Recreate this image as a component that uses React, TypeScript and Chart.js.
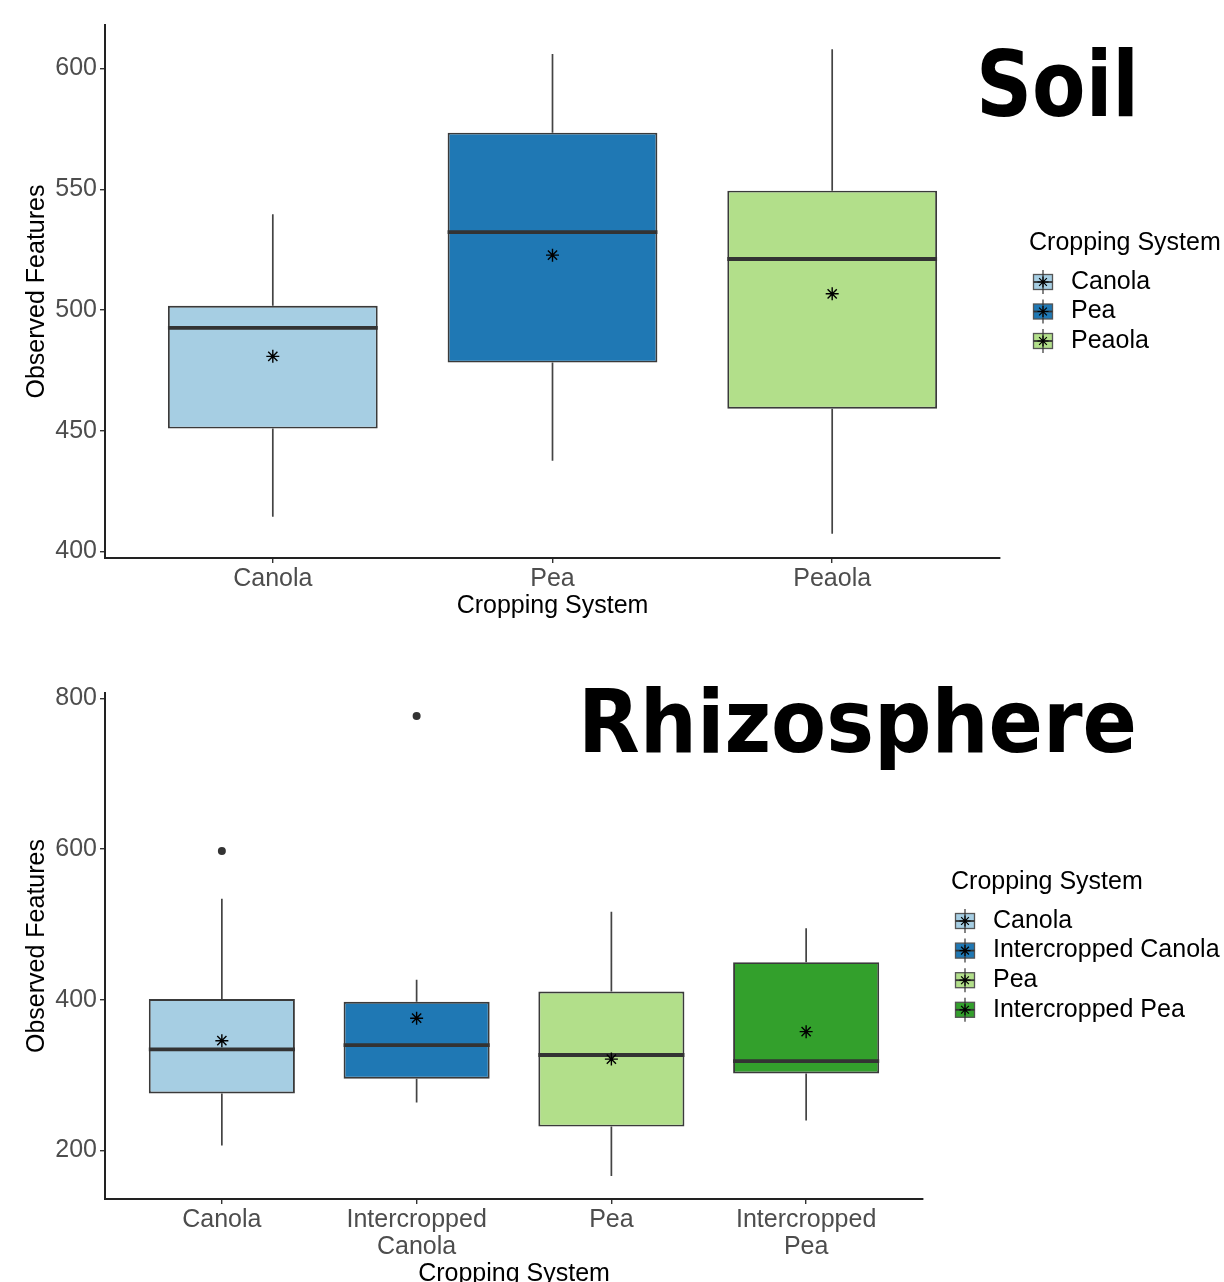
import React, { useEffect, useRef } from "react";
import { Chart, registerables } from "chart.js";

Chart.register(...registerables);

// ---------- Soil data ----------
const soilCategories: (string | string[])[] = ["Canola", "Pea", "Peaola"];
const soilLegendLabels = ["Canola", "Pea", "Peaola"];
const soilColors = ["#A6CEE3", "#1F78B4", "#B2DF8A"];
const soilLow = [414.4, 437.6, 407.3];
const soilQ1 = [450.9, 478.2, 459.1];
const soilMedian = [492.6, 532.2, 521.1];
const soilQ3 = [501.7, 573.4, 549.4];
const soilHigh = [539.6, 606.0, 608.0];
const soilMean = [480.8, 522.7, 506.7];
const soilOutliers: number[][] = [[], [], []];
const soilYTicks = [400, 450, 500, 550, 600];

// ---------- Rhizosphere data ----------
const rhizoCategories: (string | string[])[] = [
  "Canola",
  ["Intercropped", "Canola"],
  "Pea",
  ["Intercropped", "Pea"],
];
const rhizoLegendLabels = ["Canola", "Intercropped Canola", "Pea", "Intercropped Pea"];
const rhizoColors = ["#A6CEE3", "#1F78B4", "#B2DF8A", "#33A02C"];
const rhizoLow = [206.5, 263.5, 165.8, 239.6];
const rhizoQ1 = [275.5, 295.0, 231.5, 302.1];
const rhizoMedian = [334.1, 339.6, 326.5, 318.4];
const rhizoQ3 = [400.9, 397.1, 410.7, 449.8];
const rhizoHigh = [533.9, 426.4, 516.6, 494.9];
const rhizoMean = [345.5, 375.4, 321.1, 357.5];
const rhizoOutliers: number[][] = [[597.5], [776.7], [], []];
const rhizoYTicks = [200, 400, 600, 800];

const FONT = '"Liberation Sans", Arial, Helvetica, sans-serif';
const BOX_WIDTH = 0.75;

type PanelProps = {
  top: number;
  height: number;
  categories: (string | string[])[];
  legendLabels: string[];
  colors: string[];
  low: number[];
  q1: number[];
  med: number[];
  q3: number[];
  high: number[];
  mean: number[];
  outliers: number[][];
  yTicks: number[];
  yMin: number;
  yMax: number;
  padding: { left: number; top: number; right: number; bottom: number };
  xAxisHeight: number;
  xTitlePadBottom: number;
  bigTitle: string;
  bigX: number;
  bigY: number;
  bigWidth: number;
  bigSize: number;
  legendTitleX: number;
  legendTitleY: number;
  legendGlyphX: number;
  legendTextX: number;
  legendFirstY: number;
  legendStep: number;
};

function drawGlyph(ctx: CanvasRenderingContext2D, cx: number, cy: number, color: string) {
  const bw = 19;
  const bh = 15;
  ctx.save();
  ctx.fillStyle = color;
  ctx.fillRect(cx - bw / 2, cy - bh / 2, bw, bh);
  ctx.strokeStyle = "#555";
  ctx.lineWidth = 1.3;
  ctx.strokeRect(cx - bw / 2, cy - bh / 2, bw, bh);
  ctx.strokeStyle = "#333";
  ctx.lineWidth = 1.2;
  ctx.beginPath();
  ctx.moveTo(cx, cy - 12);
  ctx.lineTo(cx, cy + 12);
  ctx.stroke();
  ctx.lineWidth = 1.8;
  ctx.beginPath();
  ctx.moveTo(cx - bw / 2, cy);
  ctx.lineTo(cx + bw / 2, cy);
  ctx.stroke();
  // asterisk
  ctx.strokeStyle = "#000";
  ctx.lineWidth = 1.2;
  const r = 5.5;
  ctx.beginPath();
  ctx.moveTo(cx - r, cy);
  ctx.lineTo(cx + r, cy);
  ctx.moveTo(cx, cy - r);
  ctx.lineTo(cx, cy + r);
  const d = r * 0.7071;
  ctx.moveTo(cx - d, cy - d);
  ctx.lineTo(cx + d, cy + d);
  ctx.moveTo(cx - d, cy + d);
  ctx.lineTo(cx + d, cy - d);
  ctx.stroke();
  ctx.restore();
}

function BoxPanel(p: PanelProps) {
  const ref = useRef<HTMLCanvasElement | null>(null);

  useEffect(() => {
    const canvas = ref.current;
    if (!canvas) return;
    const xs = p.categories.map((_, i) => i + 1);
    const half = BOX_WIDTH / 2;

    const boxData = xs.map((x, i) => ({ x, y: [p.q1[i], p.q3[i]] }));
    const whiskerData: { x: number; y: number | null }[] = [];
    xs.forEach((x, i) => {
      whiskerData.push({ x, y: p.low[i] }, { x, y: p.q1[i] }, { x, y: null });
      whiskerData.push({ x, y: p.q3[i] }, { x, y: p.high[i] }, { x, y: null });
    });
    const medianData: { x: number; y: number | null }[] = [];
    xs.forEach((x, i) => {
      medianData.push({ x: x - half, y: p.med[i] }, { x: x + half, y: p.med[i] }, { x, y: null });
    });
    const outlierData: { x: number; y: number }[] = [];
    xs.forEach((x, i) => p.outliers[i].forEach((v) => outlierData.push({ x, y: v })));
    const meanData = xs.map((x, i) => ({ x, y: p.mean[i] }));

    const overlay = {
      id: "overlay",
      afterDraw(chart: any) {
        const ctx: CanvasRenderingContext2D = chart.ctx;
        ctx.save();
        ctx.font = `bold ${p.bigSize}px "DejaVu Sans Condensed", "DejaVu Sans", sans-serif`;
        const w = ctx.measureText(p.bigTitle).width;
        ctx.translate(p.bigX, p.bigY);
        ctx.scale(p.bigWidth / w, 1);
        ctx.fillStyle = "#000";
        ctx.textAlign = "left";
        ctx.textBaseline = "alphabetic";
        ctx.fillText(p.bigTitle, 0, 0);
        ctx.restore();

        ctx.save();
        ctx.fillStyle = "#000";
        ctx.font = `25px ${FONT}`;
        ctx.textAlign = "left";
        ctx.textBaseline = "middle";
        ctx.fillText("Cropping System", p.legendTitleX, p.legendTitleY);
        p.legendLabels.forEach((lab, i) => {
          const y = p.legendFirstY + i * p.legendStep;
          drawGlyph(ctx, p.legendGlyphX, y, p.colors[i]);
          ctx.fillStyle = "#000";
          ctx.font = `25px ${FONT}`;
          ctx.textAlign = "left";
          ctx.textBaseline = "middle";
          ctx.fillText(lab, p.legendTextX, y);
        });
        ctx.restore();
      },
    };

    const chart = new Chart(canvas, {
      type: "bar",
      data: {
        datasets: [
          {
            type: "bar",
            data: boxData as any,
            backgroundColor: p.colors,
            borderColor: "#3a3a3a",
            borderWidth: 1.9,
            borderSkipped: false,
            barPercentage: BOX_WIDTH,
            categoryPercentage: 1,
            order: 5,
          } as any,
          {
            type: "line",
            data: whiskerData as any,
            borderColor: "#444",
            borderWidth: 1.7,
            pointRadius: 0,
            spanGaps: false,
            fill: false,
            order: 6,
          } as any,
          {
            type: "line",
            data: medianData as any,
            borderColor: "#333",
            borderWidth: 3.8,
            pointRadius: 0,
            spanGaps: false,
            fill: false,
            order: 3,
          } as any,
          {
            type: "scatter",
            data: outlierData as any,
            pointStyle: "circle",
            pointRadius: 4,
            backgroundColor: "#333",
            borderColor: "#333",
            borderWidth: 0,
            order: 2,
          } as any,
          {
            type: "scatter",
            data: meanData as any,
            pointStyle: "star",
            pointRadius: 6.5,
            borderColor: "#000",
            backgroundColor: "#000",
            borderWidth: 1.4,
            order: 1,
          } as any,
        ],
      },
      options: {
        animation: false,
        responsive: false,
        maintainAspectRatio: false,
        events: [],
        layout: { padding: p.padding, autoPadding: false } as any,
        plugins: {
          legend: { display: false },
          tooltip: { enabled: false },
        },
        scales: {
          x: {
            type: "linear",
            min: 0.4,
            max: p.categories.length + 0.6,
            offset: false,
            afterBuildTicks: (scale: any) => {
              scale.ticks = xs.map((v) => ({ value: v }));
            },
            afterFit: (scale: any) => {
              scale.height = p.xAxisHeight;
            },
            grid: {
              offset: false,
              drawOnChartArea: false,
              drawTicks: true,
              tickLength: 5,
              color: "#333",
              lineWidth: 1.4,
            },
            border: { display: true, color: "#222", width: 2 },
            ticks: {
              autoSkip: false,
              maxRotation: 0,
              minRotation: 0,
              padding: 2,
              color: "#4d4d4d",
              font: { family: FONT, size: 25, lineHeight: 1.1 },
              callback: (v: any) => p.categories[Math.round(Number(v)) - 1] as any,
            },
            title: {
              display: true,
              text: "Cropping System",
              color: "#000",
              font: { family: FONT, size: 25, lineHeight: 1.2 },
              padding: { top: 0, bottom: p.xTitlePadBottom },
            },
          } as any,
          y: {
            type: "linear",
            min: p.yMin,
            max: p.yMax,
            afterBuildTicks: (scale: any) => {
              scale.ticks = p.yTicks.map((v) => ({ value: v }));
            },
            afterFit: (scale: any) => {
              scale.width = 105 - p.padding.left;
            },
            grid: {
              drawOnChartArea: false,
              drawTicks: true,
              tickLength: 5,
              color: "#333",
              lineWidth: 1.4,
            },
            border: { display: true, color: "#222", width: 2 },
            ticks: {
              padding: 3,
              color: "#4d4d4d",
              font: { family: FONT, size: 25 },
            },
            title: {
              display: true,
              text: "Observed Features",
              color: "#000",
              font: { family: FONT, size: 25, lineHeight: 1.2 },
              padding: { top: 22, bottom: 0 },
            },
          } as any,
        },
      },
      plugins: [overlay as any],
    });

    return () => chart.destroy();
  }, []);

  return (
    <canvas
      ref={ref}
      width={1224}
      height={p.height}
      style={{ position: "absolute", left: 0, top: p.top, width: 1224, height: p.height, display: "block" }}
    />
  );
}

export default function App() {
  return (
    <div
      style={{
        position: "absolute",
        left: 0,
        top: 0,
        width: 1224,
        height: 1282,
        overflow: "hidden",
        background: "#fff",
      }}
    >
      <BoxPanel
        top={0}
        height={630}
        categories={soilCategories}
        legendLabels={soilLegendLabels}
        colors={soilColors}
        low={soilLow}
        q1={soilQ1}
        med={soilMedian}
        q3={soilQ3}
        high={soilHigh}
        mean={soilMean}
        outliers={soilOutliers}
        yTicks={soilYTicks}
        yMin={397.3}
        yMax={618}
        padding={{ left: 0, top: 25, right: 224, bottom: 0 }}
        xAxisHeight={72}
        xTitlePadBottom={9}
        bigTitle="Soil"
        bigX={976}
        bigY={116}
        bigWidth={163}
        bigSize={90}
        legendTitleX={1029}
        legendTitleY={243}
        legendGlyphX={1043}
        legendTextX={1071}
        legendFirstY={282}
        legendStep={29.5}
      />
      <BoxPanel
        top={640}
        height={660}
        categories={rhizoCategories}
        legendLabels={rhizoLegendLabels}
        colors={rhizoColors}
        low={rhizoLow}
        q1={rhizoQ1}
        med={rhizoMedian}
        q3={rhizoQ3}
        high={rhizoHigh}
        mean={rhizoMean}
        outliers={rhizoOutliers}
        yTicks={rhizoYTicks}
        yMin={135.3}
        yMax={807.2}
        padding={{ left: 0, top: 53, right: 301, bottom: 0 }}
        xAxisHeight={101}
        xTitlePadBottom={11}
        bigTitle="Rhizosphere"
        bigX={578}
        bigY={112}
        bigWidth={559}
        bigSize={88}
        legendTitleX={951}
        legendTitleY={242}
        legendGlyphX={965}
        legendTextX={993}
        legendFirstY={281}
        legendStep={29.6}
      />
    </div>
  );
}
